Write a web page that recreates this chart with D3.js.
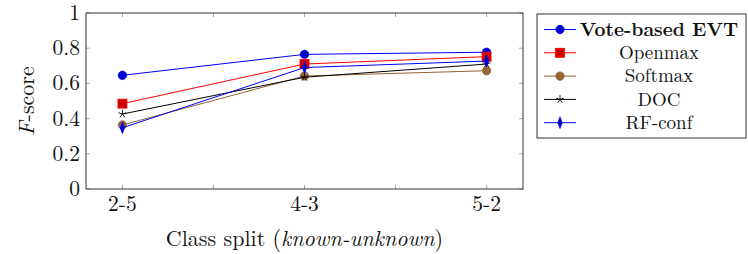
<!DOCTYPE html>
<html>
<head>
<meta charset="utf-8">
<script src="https://cdn.jsdelivr.net/npm/d3@7"></script>
<style>
  body { margin: 0; background: #fff; }
</style>
</head>
<body>
<div id="chart"></div>
<script>
// class splits on the x axis
var splits = ["2-5", "4-3", "5-2"];
var yTicks = [0, 0.2, 0.4, 0.6, 0.8, 1];

// F-score per method
var voteEvt = [0.646, 0.765, 0.777];
var openmax = [0.485, 0.710, 0.752];
var softmax = [0.364, 0.642, 0.672];
var doc = [0.426, 0.635, 0.710];
var rfConf = [0.348, 0.690, 0.727];

var seriesNames = ["Vote-based EVT", "Openmax", "Softmax", "DOC", "RF-conf"];

var FONT = "'Latin Modern Roman', 'Liberation Serif', serif";

var svgWidth = 748, svgHeight = 254;
var margin = { top: 13, right: 225, bottom: 65, left: 86 };
var width = svgWidth - margin.left - margin.right;
var height = svgHeight - margin.top - margin.bottom;

var svg = d3.select("#chart").append("svg")
  .attr("width", svgWidth)
  .attr("height", svgHeight);

var chartGroup = svg.append("g")
  .attr("transform", `translate(${margin.left}, ${margin.top})`);

var x = d3.scaleLinear().domain([0.8, 3.2]).range([0, width]);
var y = d3.scaleLinear().domain([0, 1]).range([height, 0]);

var series = [
  { name: seriesNames[0], values: voteEvt, line: "#0000ff", fill: "#0000cc", mark: "circle", bold: true },
  { name: seriesNames[1], values: openmax, line: "#ff0000", fill: "#cc0000", mark: "square" },
  { name: seriesNames[2], values: softmax, line: "#946437", fill: "#996633", mark: "circle" },
  { name: seriesNames[3], values: doc, line: "#000000", fill: "#000000", mark: "star" },
  { name: seriesNames[4], values: rfConf, line: "#0000ff", fill: "#0000cc", mark: "diamond" }
];

// ticks (inside, mirrored)
var tickColor = "#aaa";
var xTickVals = d3.range(1, 3.01, 0.5);
xTickVals.forEach(function(t) {
  chartGroup.append("line").attr("x1", x(t)).attr("x2", x(t))
    .attr("y1", height).attr("y2", height - 4).attr("stroke", tickColor);
  chartGroup.append("line").attr("x1", x(t)).attr("x2", x(t))
    .attr("y1", 0).attr("y2", 4).attr("stroke", tickColor);
});
yTicks.forEach(function(t) {
  chartGroup.append("line").attr("x1", 0).attr("x2", 4)
    .attr("y1", y(t)).attr("y2", y(t)).attr("stroke", tickColor);
  chartGroup.append("line").attr("x1", width).attr("x2", width - 4)
    .attr("y1", y(t)).attr("y2", y(t)).attr("stroke", tickColor);
});

// tick labels
chartGroup.selectAll(".ylab").data(yTicks).enter().append("text")
  .attr("x", -6).attr("y", d => y(d)).attr("dy", "0.33em")
  .attr("text-anchor", "end").attr("font-size", "21.5px")
  .attr("font-family", FONT).attr("fill", "#111")
  .text(d => d3.format("~g")(d));

chartGroup.selectAll(".xlab").data(splits).enter().append("text")
  .attr("x", (d, i) => x(i + 1)).attr("y", height + 22)
  .attr("text-anchor", "middle").attr("font-size", "21.5px")
  .attr("font-family", FONT).attr("fill", "#111")
  .text(d => d);

// lines and marks
var line = d3.line().x((d, i) => x(i + 1)).y(d => y(d));
var diamond = d3.symbol().type(d3.symbolDiamond).size(30);

function drawMark(g, s, cx, cy) {
  if (s.mark === "circle") {
    g.append("circle").attr("cx", cx).attr("cy", cy).attr("r", 4.2)
      .attr("fill", s.fill).attr("stroke", s.line).attr("stroke-width", 0.8);
  } else if (s.mark === "square") {
    g.append("rect").attr("x", cx - 4.5).attr("y", cy - 4.5).attr("width", 9).attr("height", 9)
      .attr("fill", s.fill).attr("stroke", s.line).attr("stroke-width", 0.8);
  } else if (s.mark === "star") {
    // five-armed asterisk like the pgfplots star
    var p = "";
    for (var k = 0; k < 5; k++) {
      var a = -Math.PI / 2 + k * 2 * Math.PI / 5;
      p += `M${cx},${cy}L${cx + 4.2 * Math.cos(a)},${cy + 4.2 * Math.sin(a)}`;
    }
    g.append("path").attr("d", p).attr("fill", "none")
      .attr("stroke", "#000").attr("stroke-width", 0.9);
  } else {
    g.append("path").attr("d", diamond).attr("transform", `translate(${cx},${cy}) scale(0.75,1.15)`)
      .attr("fill", s.fill).attr("stroke", s.line).attr("stroke-width", 0.8);
  }
}

series.forEach(function(s) {
  chartGroup.append("path").datum(s.values)
    .attr("d", line).attr("fill", "none")
    .attr("stroke", s.line).attr("stroke-width", 1);
  var g = chartGroup.append("g");
  s.values.forEach(function(v, i) { drawMark(g, s, x(i + 1), y(v)); });
});

// frame
chartGroup.append("rect").attr("width", width).attr("height", height)
  .attr("fill", "none").attr("stroke", "#333").attr("stroke-width", 1);

// axis labels
chartGroup.append("text")
  .attr("x", width / 2).attr("y", height + 57)
  .attr("text-anchor", "middle").attr("font-size", "22px")
  .attr("font-family", FONT).attr("fill", "#111")
  .html('Class split (<tspan font-style="italic">known-unknown</tspan>)');

chartGroup.append("text")
  .attr("transform", `translate(${-52.5}, ${height / 2}) rotate(-90)`)
  .attr("text-anchor", "middle").attr("font-size", "22px")
  .attr("font-family", FONT).attr("fill", "#111")
  .html('<tspan font-style="italic">F</tspan>-score');

// legend
var legend = svg.append("g").attr("transform", "translate(537, 14)");
legend.append("rect").attr("width", 209).attr("height", 124)
  .attr("fill", "#fff").attr("stroke", "#333").attr("stroke-width", 1);

series.forEach(function(s, i) {
  var ly = 15.5 + i * 23.3;
  legend.append("line").attr("x1", 7).attr("x2", 39).attr("y1", ly).attr("y2", ly)
    .attr("stroke", s.line).attr("stroke-width", 1);
  drawMark(legend, s, 23, ly);
  legend.append("text").attr("x", 122).attr("y", ly).attr("dy", "0.33em")
    .attr("text-anchor", "middle").attr("font-size", "19px")
    .attr("font-family", FONT).attr("fill", "#111")
    .attr("font-weight", s.bold ? "bold" : "normal")
    .text(s.name);
});
</script>
</body>
</html>
